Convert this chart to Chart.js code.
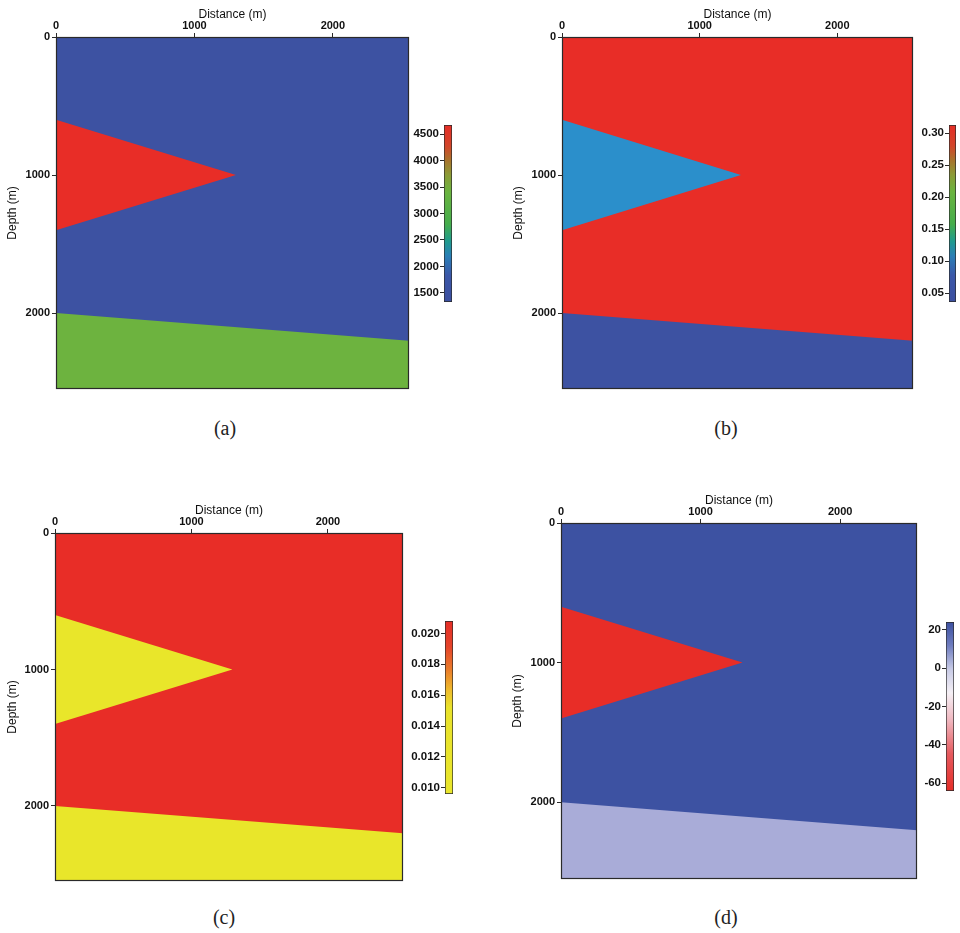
<!DOCTYPE html>
<html>
<head>
<meta charset="utf-8">
<script src="https://cdn.jsdelivr.net/npm/chart.js@4.4.1/dist/chart.umd.min.js"></script>
<style>
  body { margin:0; background:#fff; width:960px; height:933px; position:relative; overflow:hidden; }
  canvas { position:absolute; }
  .cap { position:absolute; font-family:"Liberation Serif", serif; font-size:20px; color:#222; transform:translate(-50%,-50%); }
</style>
</head>
<body>
<div class="cap" style="left:225px;top:428px">(a)</div>
<div class="cap" style="left:726px;top:428px">(b)</div>
<div class="cap" style="left:224px;top:917px">(c)</div>
<div class="cap" style="left:726px;top:917px">(d)</div>
<script>
// model geometry, metres
var modelMax = 2550;
var axisTicks = [0, 1000, 2000];
var surfaceX = [0, 2550];
var surfaceZ = [0, 0];
var interfaceX = [0, 2550];
var interfaceZ = [2000, 2200];
var wedgeTopX = [0, 1300];
var wedgeTopZ = [600, 1000];
var wedgeBaseX = [0, 1300];
var wedgeBaseZ = [1400, 1000];

// colour bar ranges and tick labels
var vpRange = [1330, 4670];
var vpTicks = [1500, 2000, 2500, 3000, 3500, 4000, 4500];
var phiRange = [0.036, 0.3125];
var phiTicks = [0.05, 0.10, 0.15, 0.20, 0.25, 0.30];
var clayRange = [0.0096, 0.0208];
var clayTicks = [0.010, 0.012, 0.014, 0.016, 0.018, 0.020];
var dRange = [-64, 24];
var dTicks = [-60, -40, -20, 0, 20];

var BLUE = '#3d52a2', RED = '#e82d27', GREEN = '#6db33f', CYAN = '#2b8fcb', YELLOW = '#e9e62a', LILAC = '#a9acd8';
var INK = '#2a2a2a';
var TICK_FONT = {family:'"Liberation Sans", Arial, sans-serif', size:11, weight:'bold'};
var TITLE_FONT = {family:'"Liberation Sans", Arial, sans-serif', size:12};

var jetStops = [[0,'#3b4f9f'],[0.15,'#3b57a8'],[0.26,'#2a7fb6'],[0.34,'#1f9a90'],[0.44,'#45ad4c'],[0.62,'#6ab440'],[0.72,'#8c9a36'],[0.8,'#a8742c'],[0.88,'#d2462a'],[1,'#e52d27']];
var yellowRedStops = [[0,'#e9e62c'],[0.5,'#e9e22a'],[0.6,'#eebb2c'],[0.72,'#ea7c2a'],[0.85,'#e5442a'],[1,'#e52d27']];
var redBlueStops = [[0,'#e52d27'],[0.22,'#e65a5e'],[0.42,'#f0b8c0'],[0.58,'#f5f0f5'],[0.72,'#c8cbe6'],[0.86,'#6f7dbf'],[1,'#3c50a0']];

function pts(xs, zs){ return xs.map(function(x, i){ return {x:x, y:zs[i]}; }); }

function addCanvas(left, top, w, h){
  var c = document.createElement('canvas');
  c.width = w; c.height = h;
  c.style.left = left + 'px'; c.style.top = top + 'px';
  c.style.width = w + 'px'; c.style.height = h + 'px';
  document.body.appendChild(c);
  return c;
}

// no label overhang padding: the layout padding alone decides the plot box
function noOverhang(s){ s.paddingTop = 0; s.paddingBottom = 0; s.paddingLeft = 0; s.paddingRight = 0; }

var framePlugin = {
  id: 'frame',
  afterDraw: function(chart){
    var a = chart.chartArea, ctx = chart.ctx;
    ctx.save();
    ctx.strokeStyle = INK; ctx.lineWidth = 1.2;
    ctx.strokeRect(a.left + 0.5, a.top + 0.5, a.right - a.left - 1, a.bottom - a.top - 1);
    ctx.restore();
  }
};

function modelPanel(left, top, w, h, yWidth, colors){
  var canvas = addCanvas(left, top, w, h);
  var line = {borderColor:'rgba(0,0,0,0)', pointRadius:0, tension:0};
  new Chart(canvas.getContext('2d'), {
    type: 'line',
    data: {
      datasets: [
        Object.assign({data: pts(wedgeTopX, wedgeTopZ), fill:'+1', backgroundColor: colors[1]}, line),
        Object.assign({data: pts(wedgeBaseX, wedgeBaseZ), fill:false}, line),
        Object.assign({data: pts(interfaceX, interfaceZ), fill:{value: modelMax}, backgroundColor: colors[2]}, line),
        Object.assign({data: pts(surfaceX, surfaceZ), fill:{value: modelMax}, backgroundColor: colors[0]}, line)
      ]
    },
    options: {
      responsive:false, animation:false, devicePixelRatio:1,
      layout: {padding:{left:0, top:0, right:3, bottom:3}},
      plugins: {legend:{display:false}, tooltip:{enabled:false}},
      scales: {
        x: {
          type:'linear', position:'top', min:0, max:modelMax,
          afterBuildTicks: function(s){ s.ticks = axisTicks.map(function(v){ return {value:v}; }); },
          ticks: {font:TICK_FONT, color:'#111', padding:0, maxRotation:0,
                  callback: function(v){ return String(v); }},
          grid: {drawOnChartArea:false, tickLength:4, color:INK},
          border: {display:false},
          title: {display:true, text:'Distance (m)', font:TITLE_FONT, color:'#111', padding:{top:7, bottom:0}},
          afterFit: function(s){ s.height = 37; noOverhang(s); }
        },
        y: {
          type:'linear', reverse:true, min:0, max:modelMax,
          afterBuildTicks: function(s){ s.ticks = axisTicks.map(function(v){ return {value:v}; }); },
          ticks: {font:TICK_FONT, color:'#111', padding:2,
                  callback: function(v){ return String(v); }},
          grid: {drawOnChartArea:false, tickLength:4, color:INK},
          border: {display:false},
          title: {display:true, text:'Depth (m)', font:TITLE_FONT, color:'#111', padding:{top:5, bottom:0}},
          afterFit: function(s){ s.width = yWidth; noOverhang(s); }
        }
      }
    },
    plugins: [framePlugin]
  });
}

function colorBar(barLeft, barTop, barW, barH, range, ticks, decimals, stops){
  var canvas = addCanvas(barLeft - 40, barTop - 8, 40 + barW + 2, barH + 16);
  new Chart(canvas.getContext('2d'), {
    type: 'bar',
    data: {
      labels: [''],
      datasets: [{
        data: [range],
        backgroundColor: function(ctx){
          var area = ctx.chart.chartArea;
          if (!area) return null;
          var g = ctx.chart.ctx.createLinearGradient(0, area.bottom, 0, area.top);
          stops.forEach(function(s){ g.addColorStop(s[0], s[1]); });
          return g;
        },
        borderColor: INK, borderWidth: 1, borderSkipped: false,
        barPercentage: 1, categoryPercentage: 1
      }]
    },
    options: {
      responsive:false, animation:false, devicePixelRatio:1,
      layout: {padding:{left:0, top:8, right:2, bottom:8}},
      plugins: {legend:{display:false}, tooltip:{enabled:false}},
      scales: {
        x: {display:false},
        y: {
          min: range[0], max: range[1],
          afterBuildTicks: function(s){ s.ticks = ticks.map(function(v){ return {value:v}; }); },
          ticks: {font:{family:TICK_FONT.family, size:11.5, weight:'bold'}, color:'#111', padding:1,
                  callback: function(v){ return Number(v).toFixed(decimals); }},
          grid: {drawOnChartArea:false, tickLength:4, color:INK},
          border: {display:false},
          afterFit: function(s){ s.width = 40; noOverhang(s); }
        }
      }
    }
  });
}

// (a) P-wave velocity
modelPanel(0, 0, 412, 392, 56, [BLUE, RED, GREEN]);
colorBar(444, 125, 8, 177, vpRange, vpTicks, 0, jetStops);
// (b) porosity
modelPanel(506, 0, 410, 392, 56, [RED, CYAN, BLUE]);
colorBar(949, 125, 7, 177, phiRange, phiTicks, 2, jetStops);
// (c) clay content
modelPanel(0, 496, 406, 388, 55, [RED, YELLOW, YELLOW]);
colorBar(445, 621, 8, 173, clayRange, clayTicks, 3, yellowRedStops);
// (d)
modelPanel(505, 486, 415, 396, 56, [BLUE, RED, LILAC]);
colorBar(946, 622, 8, 169, dRange, dTicks, 0, redBlueStops);
</script>
</body>
</html>
